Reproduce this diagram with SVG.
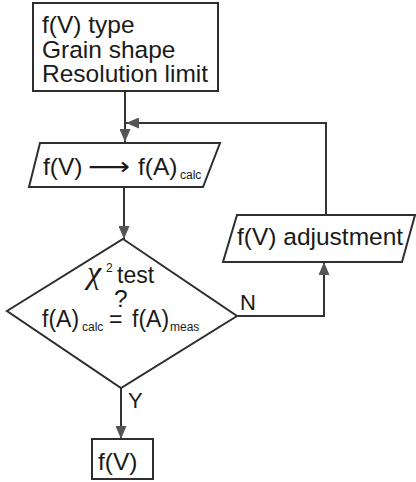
<svg xmlns="http://www.w3.org/2000/svg" width="416" height="482" viewBox="0 0 416 482">
<style>
.shape{fill:#fff;stroke:#2e2e2e;stroke-width:2}
.conn{fill:none;stroke:#333;stroke-width:2}
.t{font-family:"Liberation Sans",Arial,Helvetica,sans-serif;font-size:24.5px;fill:#1a1a1a}
.d{font-size:23px}
.sub{font-size:12px}
.lbl{font-size:22px}
</style>
<defs>
<marker id="ah" viewBox="0 0 13 11" refX="13" refY="5.5" markerWidth="13" markerHeight="11" markerUnits="userSpaceOnUse" orient="auto">
<path d="M0,0 L13,5.5 L0,11 z" fill="#555"/>
</marker>
</defs>
<rect width="416" height="482" fill="#fff"/>
<g id="connectors">
<path class="conn" d="M125,91 V142" marker-end="url(#ah)"/>
<path class="conn" d="M326,215 V123 H126" marker-end="url(#ah)"/>
<path class="conn" d="M124,187 V239" marker-end="url(#ah)"/>
<path class="conn" d="M237,316 H324 V262" marker-end="url(#ah)"/>
<path class="conn" d="M121,388 V439" marker-end="url(#ah)"/>
<text class="t lbl" x="240" y="310">N</text>
<text class="t lbl" x="128" y="408">Y</text>
</g>
<g id="input">
<rect class="shape" x="33" y="3" width="185" height="88"/>
<text class="t" x="42" y="33">f(V) type</text>
<text class="t" x="42" y="57.5">Grain shape</text>
<text class="t" x="42" y="82">Resolution limit</text>
</g>
<g id="transform">
<polygon class="shape" points="40,143 220,143 203,187 29,187"/>
<text class="t" y="175"><tspan x="43">f(V)</tspan><tspan x="88" font-family="DejaVu Sans" textLength="42" lengthAdjust="spacingAndGlyphs">⟶</tspan><tspan x="138">f(A)</tspan><tspan class="sub" x="180" y="179">calc</tspan></text>
</g>
<g id="test">
<polygon class="shape" points="123,239 237,316 121,388 7,311"/>
<text class="t d" y="283"><tspan x="87" font-size="32" font-style="italic" font-family="Liberation Serif">χ</tspan><tspan class="sub" x="106" y="272">2</tspan><tspan x="117" y="283">test</tspan></text>
<text class="t" x="114" y="307" font-size="18">?</text>
<text class="t d" y="327"><tspan x="42">f(A)</tspan><tspan class="sub" x="82" y="331">calc</tspan><tspan x="109" y="327">=</tspan><tspan x="132" y="327">f(A)</tspan><tspan class="sub" x="170" y="331">meas</tspan></text>
</g>
<g id="adjust">
<polygon class="shape" points="237,215 415,215 402,262 223,262"/>
<text class="t" x="237" y="245">f(V) adjustment</text>
</g>
<g id="output">
<rect class="shape" x="92" y="439" width="61" height="40"/>
<text class="t" x="98" y="470">f(V)</text>
</g>
</svg>
